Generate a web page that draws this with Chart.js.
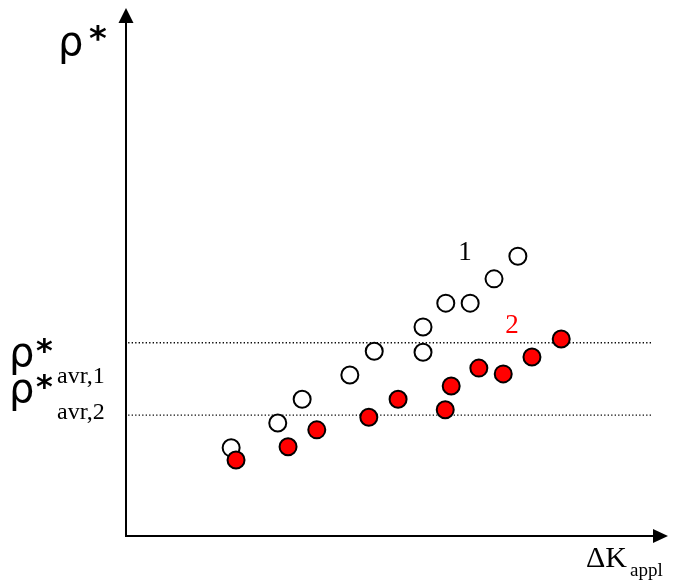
<!DOCTYPE html>
<html>
<head>
<meta charset="utf-8">
<script src="https://cdn.jsdelivr.net/npm/chart.js@4/dist/chart.umd.min.js"></script>
<style>
  html, body { margin: 0; padding: 0; background: #fff; }
  #wrap { width: 673px; height: 584px; }
</style>
</head>
<body>
<div id="wrap"><canvas id="chart" width="673" height="584"></canvas></div>
<script>
// data (arbitrary units, axes run 0..10)
const openX = [1.94, 2.80, 3.25, 4.13, 4.58, 5.48, 5.48, 5.90, 6.35, 6.79, 7.23];
const openY = [1.67, 2.14, 2.59, 3.05, 3.50, 3.96, 3.48, 4.41, 4.41, 4.87, 5.30];
const redX = [2.03, 2.99, 3.52, 4.48, 5.02, 5.89, 6.00, 6.51, 6.96, 7.49, 8.03];
const redY = [1.44, 1.69, 2.01, 2.25, 2.59, 2.39, 2.84, 3.18, 3.07, 3.39, 3.73];
const avrLevels = [3.66, 2.29];
const avrSpan = [0.04, 9.70];

const pts = (xs, ys) => xs.map((x, i) => ({ x: x, y: ys[i] }));

// 坐标轴 + 箭头 + 文字
const decoPlugin = {
    id: 'deco',
    afterDraw(chart) {
        const ctx = chart.ctx;
        const xs = chart.scales.x, ys = chart.scales.y;
        const x0 = xs.getPixelForValue(0), y0 = ys.getPixelForValue(0);
        const xEnd = xs.getPixelForValue(10), yTop = ys.getPixelForValue(10);

        ctx.save();
        ctx.strokeStyle = '#000';
        ctx.fillStyle = '#000';
        ctx.lineWidth = 2;
        ctx.beginPath();
        ctx.moveTo(x0, y0 + 1);
        ctx.lineTo(x0, yTop + 12);
        ctx.moveTo(x0 - 1, y0);
        ctx.lineTo(xEnd - 12, y0);
        ctx.stroke();

        // arrow heads
        ctx.beginPath();
        ctx.moveTo(x0, yTop);
        ctx.lineTo(x0 - 7.5, yTop + 15);
        ctx.lineTo(x0 + 7.5, yTop + 15);
        ctx.closePath();
        ctx.fill();
        ctx.beginPath();
        ctx.moveTo(xEnd, y0);
        ctx.lineTo(xEnd - 15, y0 - 7);
        ctx.lineTo(xEnd - 15, y0 + 7);
        ctx.closePath();
        ctx.fill();

        ctx.textBaseline = 'alphabetic';
        ctx.textAlign = 'left';
        // ρ* at the top
        ctx.font = '40px "DejaVu Sans"';
        ctx.fillText('ρ', 58, 55);
        ctx.font = 'bold 34px "DejaVu Sans"';
        ctx.fillText('*', 89, 50);

        // ρ*avr,1 and ρ*avr,2
        const avrLabel = (yBase, sub) => {
            ctx.font = '40px "DejaVu Sans"';
            ctx.fillText('ρ', 9, yBase - 17);
            ctx.font = 'bold 32px "DejaVu Sans"';
            ctx.fillText('*', 36, yBase - 22);
            ctx.font = '24px "Liberation Serif"';
            ctx.fillText(sub, 57, yBase);
        };
        avrLabel(383, 'avr,1');
        avrLabel(419, 'avr,2');

        // series labels
        ctx.font = '27px "Liberation Serif"';
        ctx.textAlign = 'center';
        ctx.fillText('1', 465, 260);
        ctx.fillStyle = '#ff0000';
        ctx.fillText('2', 512, 333);

        // ΔK_appl
        ctx.fillStyle = '#000';
        ctx.textAlign = 'left';
        ctx.font = '30px "Liberation Serif"';
        ctx.fillText('ΔK', 586, 567);
        ctx.font = '19px "Liberation Serif"';
        ctx.fillText('appl', 630, 576);
        ctx.restore();
    }
};

const avrSets = avrLevels.map(v => ({
    type: 'line',
    data: avrSpan.map(x => ({ x: x, y: v })),
    borderColor: '#000',
    borderWidth: 1.3,
    borderDash: [1.3, 2.2],
    pointRadius: 0,
    order: 3
}));

new Chart(document.getElementById('chart'), {
    type: 'scatter',
    data: {
        datasets: [
            {
                label: '2',
                data: pts(redX, redY),
                backgroundColor: '#ff0000',
                borderColor: '#000',
                borderWidth: 2,
                pointRadius: 8.5,
                order: 0
            },
            {
                label: '1',
                data: pts(openX, openY),
                backgroundColor: '#fff',
                borderColor: '#000',
                borderWidth: 2,
                pointRadius: 8.5,
                order: 1
            },
            ...avrSets
        ]
    },
    options: {
        responsive: false,
        animation: false,
        events: [],
        layout: { autoPadding: false, padding: { left: 126, right: 5, top: 8, bottom: 48 } },
        scales: {
            x: { type: 'linear', min: 0, max: 10, display: false },
            y: { type: 'linear', min: 0, max: 10, display: false }
        },
        plugins: {
            legend: { display: false },
            tooltip: { enabled: false }
        }
    },
    plugins: [decoPlugin]
});
</script>
</body>
</html>
